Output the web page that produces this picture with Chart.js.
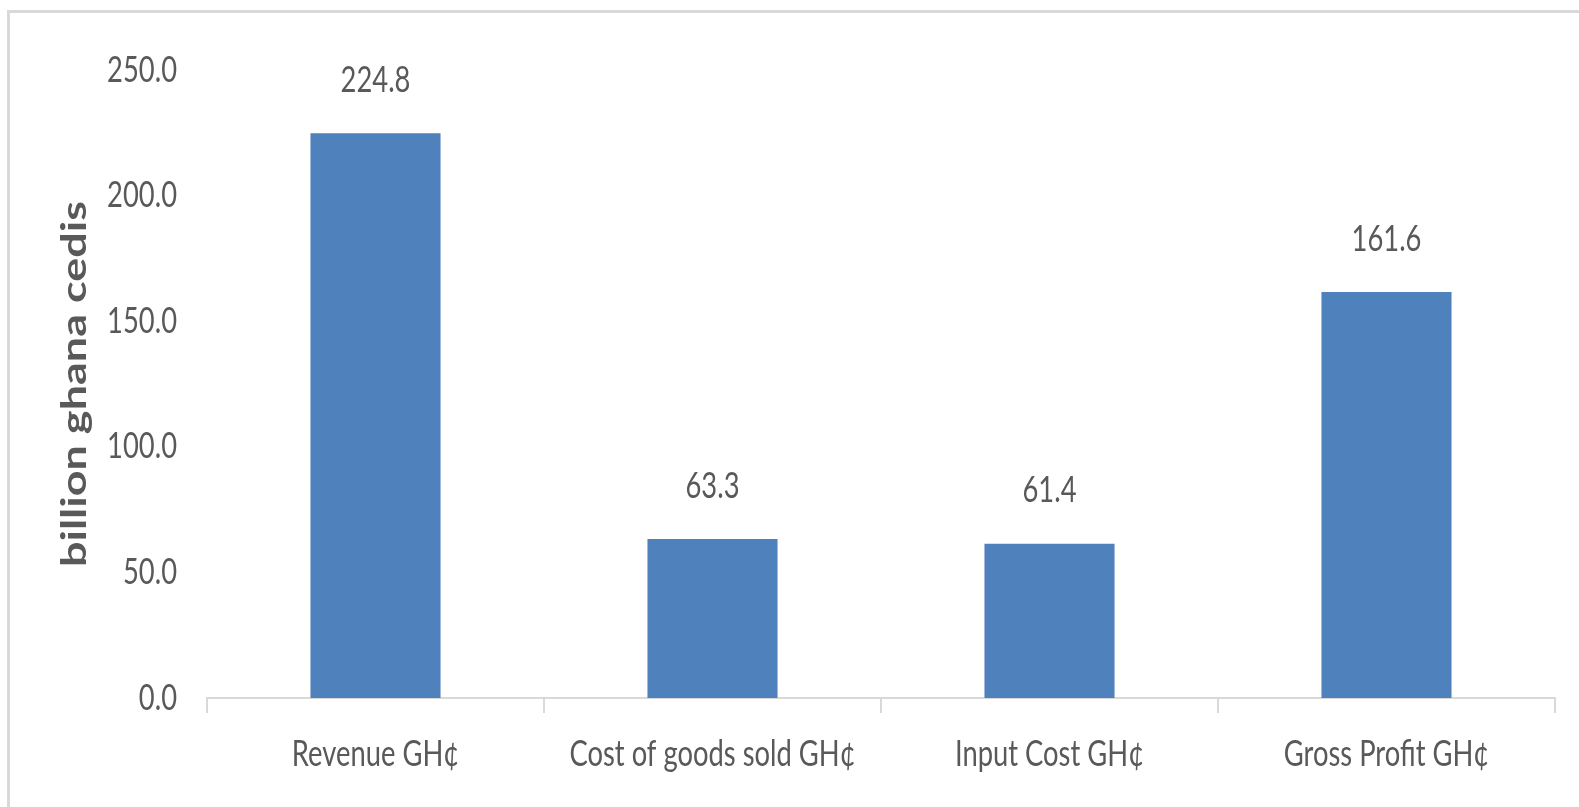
<!DOCTYPE html>
<html>
<head>
<meta charset="utf-8">
<style>
  html, body { margin: 0; padding: 0; background: #ffffff; }
  #wrap { width: 1579px; height: 807px; }
</style>
<script src="https://cdn.jsdelivr.net/npm/chart.js@4.4.1/dist/chart.umd.min.js"></script>
</head>
<body>
<div id="wrap"><canvas id="c" width="1579" height="807"></canvas></div>
<script>
// ---- data ----
const categories = ['Revenue GH¢', 'Cost of goods sold GH¢', 'Input Cost GH¢', 'Gross Profit GH¢'];
const values = [224.8, 63.3, 61.4, 161.6];
const yMin = 0;
const yMax = 250;
const yStep = 50;
const yTitle = 'billion ghana cedis';

// ---- narrow text rendering (horizontal squeeze, like the reference) ----
const S = 0.76;
const canvas = document.getElementById('c');
const ctx = canvas.getContext('2d');
const origFill = ctx.fillText;
const origMeasure = ctx.measureText;
ctx.fillText = function (text, x, y, maxWidth) {
  const m = this.getTransform();
  const p = m.transformPoint(new DOMPoint(x, y));
  this.save();
  const n = new DOMMatrix().translate(p.x, p.y).scale(S, 1).translate(-p.x, -p.y).multiply(m);
  this.setTransform(n);
  if (maxWidth !== undefined) origFill.call(this, text, x, y, maxWidth / S);
  else origFill.call(this, text, x, y);
  this.restore();
};
ctx.measureText = function (text) {
  const r = origMeasure.call(this, text);
  return {
    width: r.width * S,
    actualBoundingBoxAscent: r.actualBoundingBoxAscent,
    actualBoundingBoxDescent: r.actualBoundingBoxDescent,
    actualBoundingBoxLeft: r.actualBoundingBoxLeft * S,
    actualBoundingBoxRight: r.actualBoundingBoxRight * S
  };
};

const TEXT = '#595959';
const LINE = '#d9d9d9';

const framePlugin = {
  id: 'frame',
  beforeDraw(chart) {
    const c = chart.ctx;
    c.save();
    c.fillStyle = '#ffffff';
    c.fillRect(0, 0, chart.width, chart.height);
    c.strokeStyle = LINE;
    c.lineWidth = 3;
    c.strokeRect(8.5, 11.5, 3000, 3000);
    c.restore();
  }
};

const valueLabels = {
  id: 'valueLabels',
  afterDatasetsDraw(chart) {
    const c = chart.ctx;
    const meta = chart.getDatasetMeta(0);
    c.save();
    c.font = '36px Lato';
    c.fillStyle = TEXT;
    c.textAlign = 'center';
    c.textBaseline = 'middle';
    meta.data.forEach((bar, i) => {
      c.fillText(values[i].toFixed(1), bar.x, bar.y - 53);
    });
    c.restore();
  }
};

new Chart(ctx, {
  type: 'bar',
  data: {
    labels: categories,
    datasets: [{
      data: values,
      backgroundColor: '#4F81BD',
      borderWidth: 0,
      barPercentage: 0.386,
      categoryPercentage: 1.0
    }]
  },
  options: {
    responsive: false,
    animation: false,
    layout: { padding: { left: 18, right: 24, top: 70, bottom: 0 } },
    plugins: {
      legend: { display: false },
      tooltip: { enabled: false }
    },
    scales: {
      x: {
        grid: {
          display: true,
          drawOnChartArea: false,
          drawTicks: true,
          tickLength: 15,
          color: LINE,
          lineWidth: 2,
          offset: true
        },
        border: { display: true, color: LINE, width: 2 },
        ticks: {
          color: TEXT,
          font: { family: 'Lato', size: 36 },
          padding: 20,
          maxRotation: 0,
          minRotation: 0,
          autoSkip: false
        },
        afterFit(scale) { scale.height = 807 - 698; }
      },
      y: {
        min: yMin,
        max: yMax,
        grid: { display: false, drawTicks: false },
        border: { display: false },
        ticks: {
          stepSize: yStep,
          color: TEXT,
          font: { family: 'Lato', size: 36 },
          padding: 30,
          callback: (v) => Number(v).toFixed(1)
        },
        title: {
          display: true,
          text: yTitle,
          color: TEXT,
          font: { family: 'Lato', size: 45, weight: 'bold' },
          padding: { top: 30, bottom: 0 }
        },
        afterFit(scale) { scale.width = 207 - 18; }
      }
    }
  },
  plugins: [framePlugin, valueLabels]
});
</script>
</body>
</html>
